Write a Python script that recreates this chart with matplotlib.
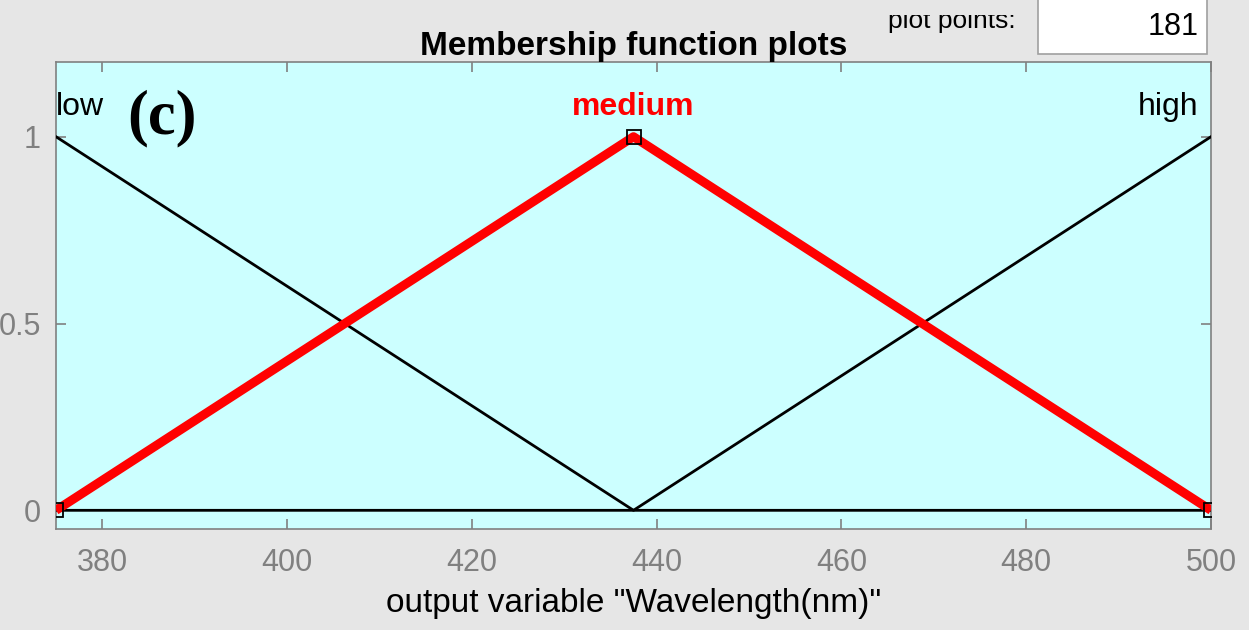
import matplotlib
matplotlib.use("Agg")
import matplotlib.pyplot as plt
from matplotlib.patches import Rectangle

# Data
low_x = [375, 437.5, 500]
low_y = [1, 0, 0]
medium_x = [375, 437.5, 500]
medium_y = [0, 1, 0]
high_x = [375, 437.5, 500]
high_y = [0, 0, 1]
mf_names = ["low", "medium", "high"]
xticks = [380, 400, 420, 440, 460, 480, 500]
yticks = [0, 0.5, 1]
ytick_labels = ["0", "0.5", "1"]

plt.rcParams['font.family'] = ['Liberation Sans', 'DejaVu Sans']

W, H = 1249, 630
fig = plt.figure(figsize=(W / 100, H / 100), dpi=100, facecolor='#e6e6e6')
ax = fig.add_axes([56 / W, 1 - 529 / H, (1211 - 56) / W, (529 - 62) / H])
ax.set_facecolor('#ccffff')

ax.plot(low_x, low_y, color='black', lw=2, zorder=3)
ax.plot(high_x, high_y, color='black', lw=2, zorder=3)
ax.plot(medium_x, medium_y, color='#ff0000', lw=6.5, zorder=4, solid_capstyle='butt')
ax.plot(medium_x, medium_y, ls='none', marker='s', ms=10, mfc='none', mec='black', mew=1.3, zorder=5)

ax.set_xlim(375, 500)
ax.set_ylim(-0.05, 1.2)
ax.set_xticks(xticks)
ax.set_yticks(yticks)
ax.set_yticklabels(ytick_labels)
ax.tick_params(direction='in', length=7.5, width=1.2, colors='#808080', labelsize=22,
               top=True, right=True)
ax.tick_params(axis='y', pad=11)
ax.tick_params(axis='x', pad=14)
for s in ax.spines.values():
    s.set_color('#808080')
    s.set_linewidth(1.2)

ax.set_xlabel('output variable "Wavelength(nm)"', fontsize=24, color='black', labelpad=7)
ax.set_title('Membership function plots', fontsize=24, fontweight='bold', pad=5)

# MF labels
ax.text(375, 1.08, mf_names[0], ha='left', va='center', fontsize=23)
ax.text(437.5, 1.08, mf_names[1], ha='center', va='center', fontsize=23, fontweight='bold', color='#ff0000')
ax.text(498.6, 1.08, mf_names[2], ha='right', va='center', fontsize=23)

ax.text(162 / W, 1 - 118 / H, '(c)', transform=fig.transFigure, ha='center', va='center',
        fontsize=45, fontweight='bold', family=['Liberation Serif', 'DejaVu Serif'])

# plot points widget (label partly hidden at its top, as in the reference)
pp = fig.text(1016 / W, 1 - 28 / H, 'plot points:', ha='right', va='baseline', fontsize=19)
clip = Rectangle((850 / W, 0), 200 / W, 1 - 15 / H, transform=fig.transFigure)
pp.set_clip_path(clip)
pp.set_clip_on(True)
fig.patches.append(Rectangle((1038 / W, 1 - 54 / H), (1207 - 1038) / W, 60 / H,
                             transform=fig.transFigure, facecolor='white',
                             edgecolor='#a0a0a0', lw=1.2))
fig.text(1199 / W, 1 - 27 / H, '181', ha='right', va='center', fontsize=22)

fig.savefig('out.png', dpi=100, facecolor=fig.get_facecolor())
